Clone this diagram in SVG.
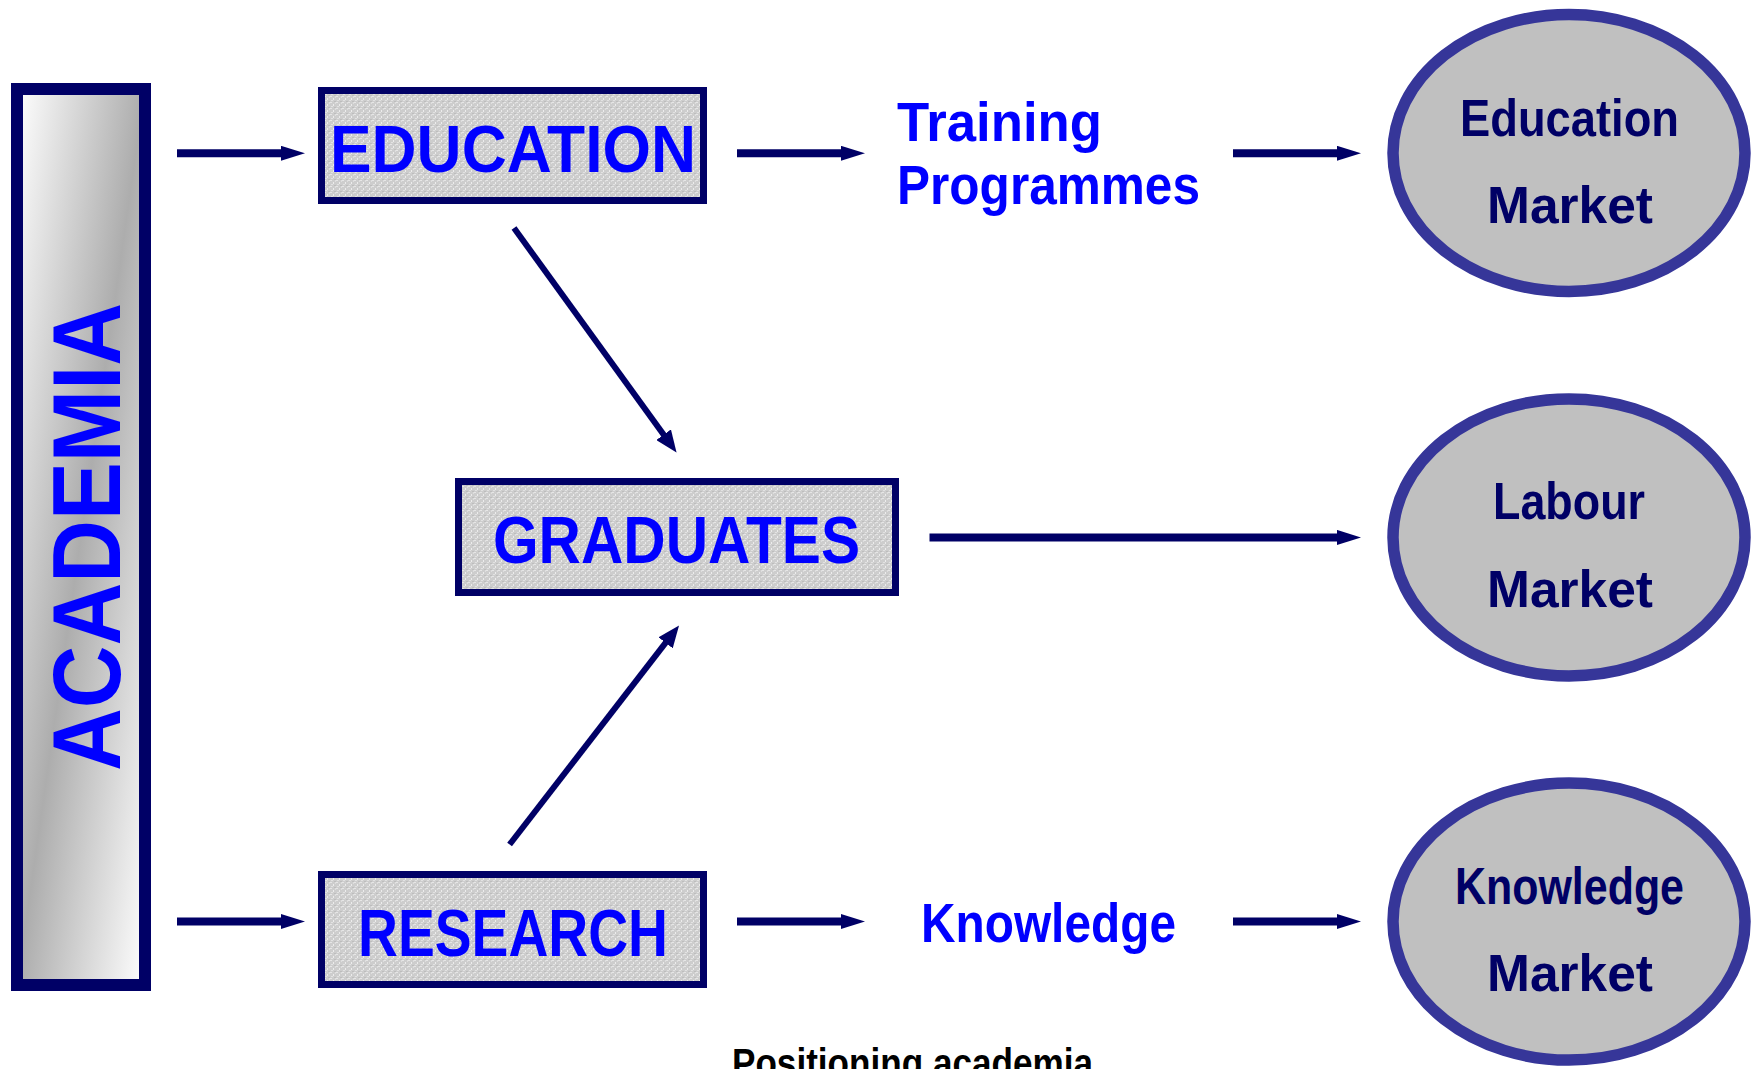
<svg xmlns="http://www.w3.org/2000/svg" width="1756" height="1069" viewBox="0 0 1756 1069">
  <defs>
    <linearGradient id="barGrad" x1="0" y1="0" x2="1" y2="1">
      <stop offset="0" stop-color="#ffffff"/>
      <stop offset="0.5" stop-color="#adadad"/>
      <stop offset="1" stop-color="#ffffff"/>
    </linearGradient>
    <pattern id="speckle" width="6" height="6" patternUnits="userSpaceOnUse">
      <rect width="6" height="6" fill="#cdcdcd"/>
      <rect x="0" y="0" width="2" height="1" fill="#e6e6e6"/>
      <rect x="3" y="2" width="1" height="2" fill="#ececec"/>
      <rect x="1" y="4" width="2" height="1" fill="#e2e2e2"/>
      <rect x="4" y="5" width="2" height="1" fill="#bdbdbd"/>
      <rect x="5" y="0" width="1" height="2" fill="#dedede"/>
    </pattern>
    <marker id="headH" markerUnits="userSpaceOnUse" markerWidth="26" markerHeight="16" refX="2" refY="7.5" orient="auto">
      <path d="M0,0 L24,7.5 L0,15 Z" fill="#000066"/>
    </marker>
    <marker id="headD" markerUnits="userSpaceOnUse" markerWidth="24" markerHeight="18" refX="10" refY="9" orient="auto">
      <path d="M0,0 L22,9 L0,18 Z" fill="#000066"/>
    </marker>
    <style>
      .box { fill: url(#speckle); stroke: #000066; stroke-width: 7; }
      .ell { fill: #c0c0c0; stroke: #363699; stroke-width: 11.5; }
      .boxtxt { font-family: "Liberation Sans", Arial, sans-serif; font-weight: bold; font-size: 66px; fill: #0000ff; }
      .vert { font-size: 96px; }
      .blue { font-family: "Liberation Sans", Arial, sans-serif; font-weight: bold; font-size: 56px; fill: #0000ff; }
      .mkt { font-family: "Liberation Sans", Arial, sans-serif; font-weight: bold; font-size: 52px; fill: #000066; }
      .cap { font-family: "Liberation Sans", Arial, sans-serif; font-weight: bold; font-size: 40px; fill: #000000; }
      .conn { stroke: #000066; fill: none; }
      .h { stroke-width: 8; marker-end: url(#headH); }
      .d { stroke-width: 6; marker-end: url(#headD); }
    </style>
  </defs>

  <rect width="1756" height="1069" fill="#ffffff"/>

  <g id="academia">
    <rect x="17" y="89" width="128" height="896" fill="url(#barGrad)" stroke="#000066" stroke-width="12"/>
    <text class="boxtxt vert" transform="translate(120,771) rotate(-90)" x="0" y="0" textLength="468" lengthAdjust="spacingAndGlyphs">ACADEMIA</text>
  </g>

  <g id="education">
    <rect class="box" x="321.5" y="90.5" width="382" height="110"/>
    <text class="boxtxt" x="330" y="172" textLength="366" lengthAdjust="spacingAndGlyphs">EDUCATION</text>
  </g>

  <g id="graduates">
    <rect class="box" x="458.5" y="481.5" width="437" height="111"/>
    <text class="boxtxt" x="493" y="563" textLength="367" lengthAdjust="spacingAndGlyphs">GRADUATES</text>
  </g>

  <g id="research">
    <rect class="box" x="321.5" y="874.5" width="382" height="110"/>
    <text class="boxtxt" x="358" y="956" textLength="310" lengthAdjust="spacingAndGlyphs">RESEARCH</text>
  </g>

  <g id="training">
    <text class="blue" x="897" y="141" textLength="205" lengthAdjust="spacingAndGlyphs">Training</text>
    <text class="blue" x="897" y="204" textLength="303" lengthAdjust="spacingAndGlyphs">Programmes</text>
  </g>

  <g id="knowledge">
    <text class="blue" x="921" y="942" textLength="255" lengthAdjust="spacingAndGlyphs">Knowledge</text>
  </g>

  <g id="education-market">
    <ellipse class="ell" cx="1569" cy="153" rx="176" ry="138.5"/>
    <text class="mkt" x="1460" y="136" textLength="219" lengthAdjust="spacingAndGlyphs">Education</text>
    <text class="mkt" x="1487" y="223" textLength="166" lengthAdjust="spacingAndGlyphs">Market</text>
  </g>

  <g id="labour-market">
    <ellipse class="ell" cx="1569" cy="537.4" rx="176" ry="138.5"/>
    <text class="mkt" x="1493" y="519.4" textLength="152" lengthAdjust="spacingAndGlyphs">Labour</text>
    <text class="mkt" x="1487" y="606.7" textLength="166" lengthAdjust="spacingAndGlyphs">Market</text>
  </g>

  <g id="knowledge-market">
    <ellipse class="ell" cx="1569" cy="921.6" rx="176" ry="138.5"/>
    <text class="mkt" x="1455" y="904" textLength="229" lengthAdjust="spacingAndGlyphs">Knowledge</text>
    <text class="mkt" x="1487" y="991.2" textLength="166" lengthAdjust="spacingAndGlyphs">Market</text>
  </g>

  <g id="connectors">
    <line class="conn h" x1="177" y1="153.3" x2="283" y2="153.3"/>
    <line class="conn h" x1="737" y1="153.3" x2="843" y2="153.3"/>
    <line class="conn h" x1="1233" y1="153.3" x2="1339" y2="153.3"/>
    <line class="conn h" x1="929.5" y1="537.4" x2="1339" y2="537.4"/>
    <line class="conn h" x1="177" y1="921.6" x2="283" y2="921.6"/>
    <line class="conn h" x1="737" y1="921.6" x2="843" y2="921.6"/>
    <line class="conn h" x1="1233" y1="921.6" x2="1339" y2="921.6"/>
    <line class="conn d" x1="514" y1="228" x2="669.5" y2="442.8"/>
    <line class="conn d" x1="509.6" y1="844.5" x2="671.7" y2="634.9"/>
  </g>

  <text class="cap" x="732" y="1077" textLength="361" lengthAdjust="spacingAndGlyphs">Positioning academia</text>
</svg>
